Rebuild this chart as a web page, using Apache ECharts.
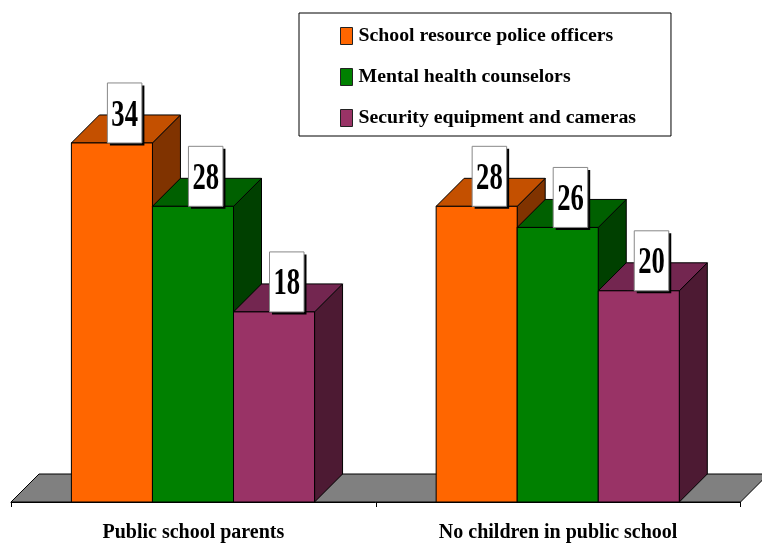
<!DOCTYPE html>
<html><head><meta charset="utf-8">
<style>html,body{margin:0;padding:0;background:#fff}#c{width:762px;height:543px}</style>
<script src="https://cdn.jsdelivr.net/npm/echarts@6/dist/echarts.min.js"></script>
</head><body><div id="c"></div>
<script>
const categories = ['Public school parents', 'No children in public school'];
const policeOfficers = [34, 28];
const counselors = [28, 26];
const equipment = [18, 20];
const seriesNames = ['School resource police officers', 'Mental health counselors', 'Security equipment and cameras'];
const colors = [
  {front:'#FF6600', top:'#C45000', side:'#803300'},
  {front:'#008000', top:'#006000', side:'#004000'},
  {front:'#993366', top:'#732650', side:'#4D1A33'}
];
const FONT = '"Liberation Serif", "Times New Roman", serif';
const DEPTH = 28;
const chart = echarts.init(document.getElementById('c'));

function poly(points, fill) {
  return {type:'polygon', shape:{points}, style:{fill, stroke:'#000', lineWidth:1}};
}
function barRenderer(si) {
  return function (params, api) {
    const base = api.coord([api.value(0), 0]);
    const head = api.coord([api.value(0), api.value(1)]);
    const band = api.size([1, 0])[0];
    const w = band * 2 / 9;
    const x0 = base[0] - 1.5 * w + si * w - 0.4;
    const x1 = x0 + w, yB = base[1], yT = head[1], d = DEPTH, c = colors[si];
    const bx = x0 + 36, bw = 34.5, bh = 60;
    return {type:'group', children:[
      poly([[x1,yB],[x1+d,yB-d],[x1+d,yT-d],[x1,yT]], c.side),
      poly([[x0,yT],[x0+d,yT-d],[x1+d,yT-d],[x1,yT]], c.top),
      poly([[x0,yB],[x1,yB],[x1,yT],[x0,yT]], c.front),
      {type:'rect', shape:{x:bx+2.5,y:yT-bh+2.5,width:bw,height:bh}, style:{fill:'#000'}},
      {type:'rect', shape:{x:bx,y:yT-bh,width:bw,height:bh}, style:{fill:'#fff',stroke:'#888',lineWidth:1}},
      {type:'text', x:bx+bw/2, y:yT-bh/2+3, scaleX:0.72, scaleY:1,
        style:{text:String(api.value(1)), x:0, y:0, align:'center', verticalAlign:'middle',
               font:'bold 37px '+FONT, fill:'#000'}}
    ]};
  };
}
function floorRenderer(params, api) {
  const cs = params.coordSys, yB = cs.y + cs.height, x = cs.x, r = cs.x + cs.width, d = DEPTH;
  return poly([[x,yB],[x+d,yB-d],[r+d,yB-d],[r,yB]], '#808080');
}
const data = [policeOfficers, counselors, equipment];
chart.setOption({
  animation:false,
  backgroundColor:'#fff',
  textStyle:{fontFamily:FONT},
  grid:{left:11, width:729.5, top:79.6, height:422.4},
  legend:{
    data:seriesNames.map(name=>({name, icon:'rect'})), orient:'vertical', left:299, top:13,
    padding:[13,35,8,41], itemWidth:12, itemHeight:17, itemGap:21,
    backgroundColor:'#fff', borderColor:'#000', borderWidth:1,
    selectedMode:false,
    textStyle:{fontFamily:FONT, fontWeight:'bold', fontSize:19.8, color:'#000', padding:[0,0,0,1], lineHeight:17},
    itemStyle:{borderColor:'#222', borderWidth:1}
  },
  xAxis:{type:'category', data:categories,
    axisLine:{show:true, lineStyle:{color:'#000',width:1}},
    axisTick:{show:true, alignWithLabel:false, length:5, lineStyle:{color:'#000',width:1}},
    axisLabel:{fontFamily:FONT, fontWeight:'bold', fontSize:20, color:'#000', margin:21}, z:5},
  yAxis:{type:'value', min:0, max:40, show:false, splitLine:{show:false}},
  series:[
    {type:'custom', name:'floor', data:[[0,0]], renderItem:floorRenderer, silent:true, z:1},
    ...seriesNames.map((n,si)=>({
      type:'custom', name:n, z:2+si, itemStyle:{color:colors[si].front},
      encode:{x:0,y:1},
      data:data[si].map((v,i)=>[i,v]), renderItem:barRenderer(si)
    }))
  ]
});
</script></body></html>
